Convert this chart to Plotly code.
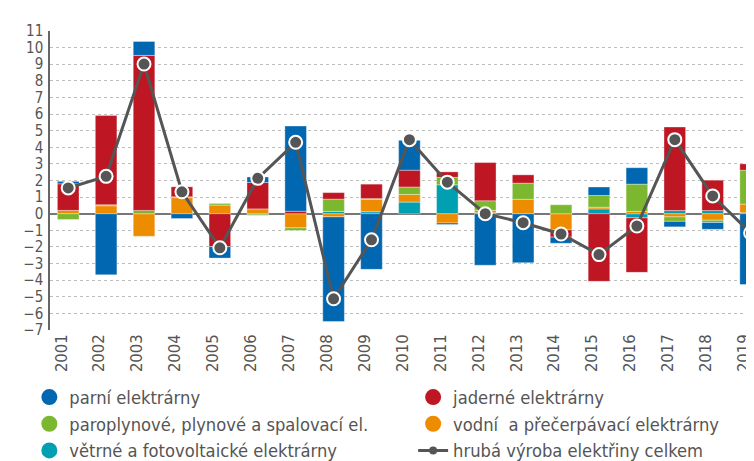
import plotly.graph_objects as go

years = [str(y) for y in range(2001, 2020)]

# stack order outward from zero: teal, orange, green, red, blue
vetrne = [0, 0, 0, 0, 0, -0.03, 0, 0.14, 0.12, 0.70, 1.74, 0.06, 0, 0, 0.29, -0.25, 0.19, 0.19, 0.06]
vodni = [0.20, 0.48, -1.36, 0.97, 0.52, 0.29, -0.85, -0.19, 0.75, 0.46, -0.56, 0.14, 0.87, -0.97, 0.10, 0.14, -0.19, -0.39, 0.52]
paroplyn = [-0.35, 0.06, 0.20, 0.05, 0.10, -0.07, -0.16, 0.74, 0.04, 0.45, 0.45, 0.58, 0.97, 0.54, 0.71, 1.64, -0.27, -0.14, 2.04]
jaderne = [1.60, 5.37, 9.33, 0.60, -1.98, 1.59, 0.15, 0.39, 0.87, 1.01, 0.33, 2.30, 0.50, -0.44, -4.07, -3.28, 5.03, 1.83, 0.38]
parni = [0.15, -3.68, 0.84, -0.29, -0.69, 0.33, 5.13, -6.30, -3.35, 1.80, -0.09, -3.10, -2.95, -0.37, 0.51, 0.99, -0.33, -0.41, -4.26]
celkem = [1.55, 2.25, 9.01, 1.32, -2.05, 2.13, 4.30, -5.12, -1.57, 4.46, 1.90, 0.0, -0.54, -1.22, -2.46, -0.74, 4.46, 1.07, -1.16]

names = ["parní elektrárny", "jaderné elektrárny", "paroplynové, plynové a spalovací el.",
         "vodní  a přečerpávací elektrárny", "větrné a fotovoltaické elektrárny",
         "hrubá výroba elektřiny celkem"]

C_BLUE = "#0167b1"
C_RED = "#be1622"
C_GREEN = "#7cb82f"
C_ORANGE = "#ee8c00"
C_TEAL = "#00a0b2"
C_LINE = "#555555"
TXT = "#555555"
FONT = "DejaVu Sans Condensed, Liberation Sans Narrow, DejaVu Sans, sans-serif"

fig = go.Figure()
edge = dict(color="rgba(255,255,255,0.45)", width=0.8)
for vals, col in [(vetrne, C_TEAL), (vodni, C_ORANGE), (paroplyn, C_GREEN), (jaderne, C_RED), (parni, C_BLUE)]:
    fig.add_trace(go.Bar(x=years, y=vals, marker=dict(color=col, line=edge), showlegend=False))

fig.add_trace(go.Scatter(x=years, y=celkem, mode="lines+markers",
                         line=dict(color=C_LINE, width=3),
                         marker=dict(size=13, color=C_LINE, line=dict(color="white", width=2)),
                         showlegend=False))

# legend entries
leg = [(names[0], C_BLUE, "legend"), (names[2], C_GREEN, "legend"), (names[4], C_TEAL, "legend"),
       (names[1], C_RED, "legend2"), (names[3], C_ORANGE, "legend2")]
for i, (nm, col, lg) in enumerate(leg):
    fig.add_trace(go.Scatter(x=[None], y=[None], mode="markers", name=nm, legend=lg,
                             legendgroup="g%d" % i,
                             marker=dict(size=16, color=col, symbol="circle")))
fig.add_trace(go.Scatter(x=[None], y=[None], mode="lines+markers", name=names[5], legend="legend2",
                         legendgroup="g9",
                         line=dict(color=C_LINE, width=3), marker=dict(size=8, color=C_LINE)))

fig.update_layout(
    width=754, height=461,
    margin=dict(l=42, r=0, t=23, b=129),
    barmode="relative", bargap=0.43,
    plot_bgcolor="white", paper_bgcolor="white",
    font=dict(family=FONT, color=TXT, size=17),
    xaxis=dict(type="category", range=[-0.48, 18.3], showgrid=False, showline=False,
               tickangle=-90, tickfont=dict(size=16.5, color=TXT), ticks="", zeroline=False,
               ticklabelshift=-7, ticklabeloverflow="allow"),
    yaxis=dict(range=[-7, 11], dtick=1, tick0=0, showgrid=True, gridcolor="#bdbdbd",
               griddash="3px,3px", gridwidth=1, zeroline=True, zerolinecolor="#777777",
               zerolinewidth=1.5, showline=True, linecolor="#666666", linewidth=1.5,
               tickfont=dict(size=15, color=TXT), ticks="", ticklabelstandoff=2),
    legend=dict(x=-0.029, y=-0.163, xanchor="left", yanchor="top", orientation="v",
                font=dict(size=18.2, color=TXT), tracegroupgap=0, bgcolor="rgba(0,0,0,0)"),
    legend2=dict(x=0.510, y=-0.163, xanchor="left", yanchor="top", orientation="v",
                 font=dict(size=18.2, color=TXT), tracegroupgap=0, bgcolor="rgba(0,0,0,0)"),
)

fig.write_html("out.html")
